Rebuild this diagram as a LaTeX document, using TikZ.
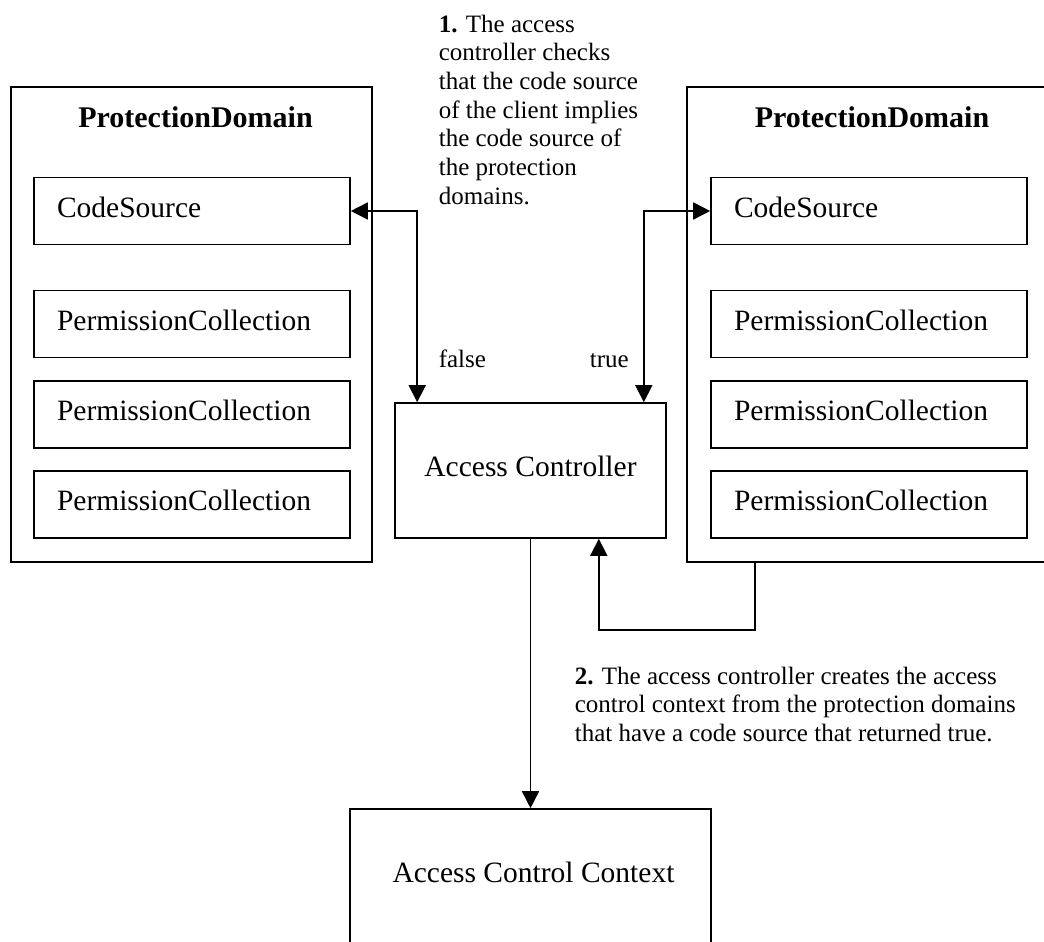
\documentclass[tikz,border=0pt]{standalone}
\usepackage{fontspec}
\setmainfont{Liberation Serif}
\usetikzlibrary{arrows.meta}
\begin{document}
\begin{tikzpicture}[x=1pt, y=-1pt, line width=1.6pt,
  >={Triangle[length=17pt,width=17pt]},
  lblfont/.style={font=\fontsize{29.5}{33}\selectfont},
  notetext/.style={font=\fontsize{25}{28.7}\selectfont, align=left, inner sep=0pt},
  pdbox/.style={draw, rectangle, minimum height=475pt, inner sep=0pt},
  pdtitle/.style={font=\fontsize{30}{33}\selectfont\bfseries, inner sep=0pt},
  itembox/.style={draw, rectangle, lblfont, text width=270pt, inner xsep=23pt, inner ysep=0pt,
    minimum height=67pt, align=left, text height=19pt, text depth=7pt},
  blockbox/.style={draw, rectangle, lblfont, inner sep=0pt, text height=19pt, text depth=7pt}
]
\useasboundingbox (0,0) rectangle (1044,942);
\clip (0,0) rectangle (1044,942);

% left protection domain
\node[pdbox, minimum width=361pt] (pdL) at (191.5,324.5) {};
\node[pdtitle, anchor=base] (pdLt) at (195.5,127) {ProtectionDomain};
\node[itembox] (lcs) at (192,211) {CodeSource};
\node[itembox] (lp1) at (192,324) {PermissionCollection};
\node[itembox] (lp2) at (192,414.5) {PermissionCollection};
\node[itembox] (lp3) at (192,504.5) {PermissionCollection};

% right protection domain (its right side runs past the edge)
\node[pdbox, minimum width=363pt] (pdR) at (868.5,324.5) {};
\node[pdtitle, anchor=base] (pdRt) at (872,127) {ProtectionDomain};
\node[itembox] (rcs) at (869,211) {CodeSource};
\node[itembox] (rp1) at (869,324) {PermissionCollection};
\node[itembox] (rp2) at (869,414.5) {PermissionCollection};
\node[itembox] (rp3) at (869,504.5) {PermissionCollection};

% access controller and context
\node[blockbox, minimum width=271pt, minimum height=135pt] (ac) at (530.5,470.5) {Access Controller};
\node[draw, rectangle, minimum width=361pt, minimum height=200pt, inner sep=0pt] (acc) at (530.5,909) {};
\node[lblfont, anchor=base, inner sep=0pt] (acct) at (533.5,882) {Access Control Context};

% notes
\node[notetext, anchor=north west] (n1) at (438,14) {\textbf{1.} The access\\controller checks\\that the code source\\of the client implies\\the code source of\\the protection\\domains.};
\node[notetext, anchor=base west] (lf) at (438,367) {false};
\node[notetext, anchor=base west] (lt) at (589,367) {true};
\node[notetext, anchor=north west] (n2) at (574,666) {\textbf{2.} The access controller creates the access\\control context from the protection domains\\that have a code source that returned true.};

% connectors
\draw[<->] (lcs.east) -| ([xshift=23pt]ac.north west);
\draw[<->] (rcs.west) -| ([xshift=-23pt]ac.north east);
\draw[->] ([xshift=69pt]pdR.south west) -- ++(0,67) -| ([xshift=-68pt]ac.south east);
\draw[->] (ac.south) -- (acc.north);
\end{tikzpicture}
\end{document}
